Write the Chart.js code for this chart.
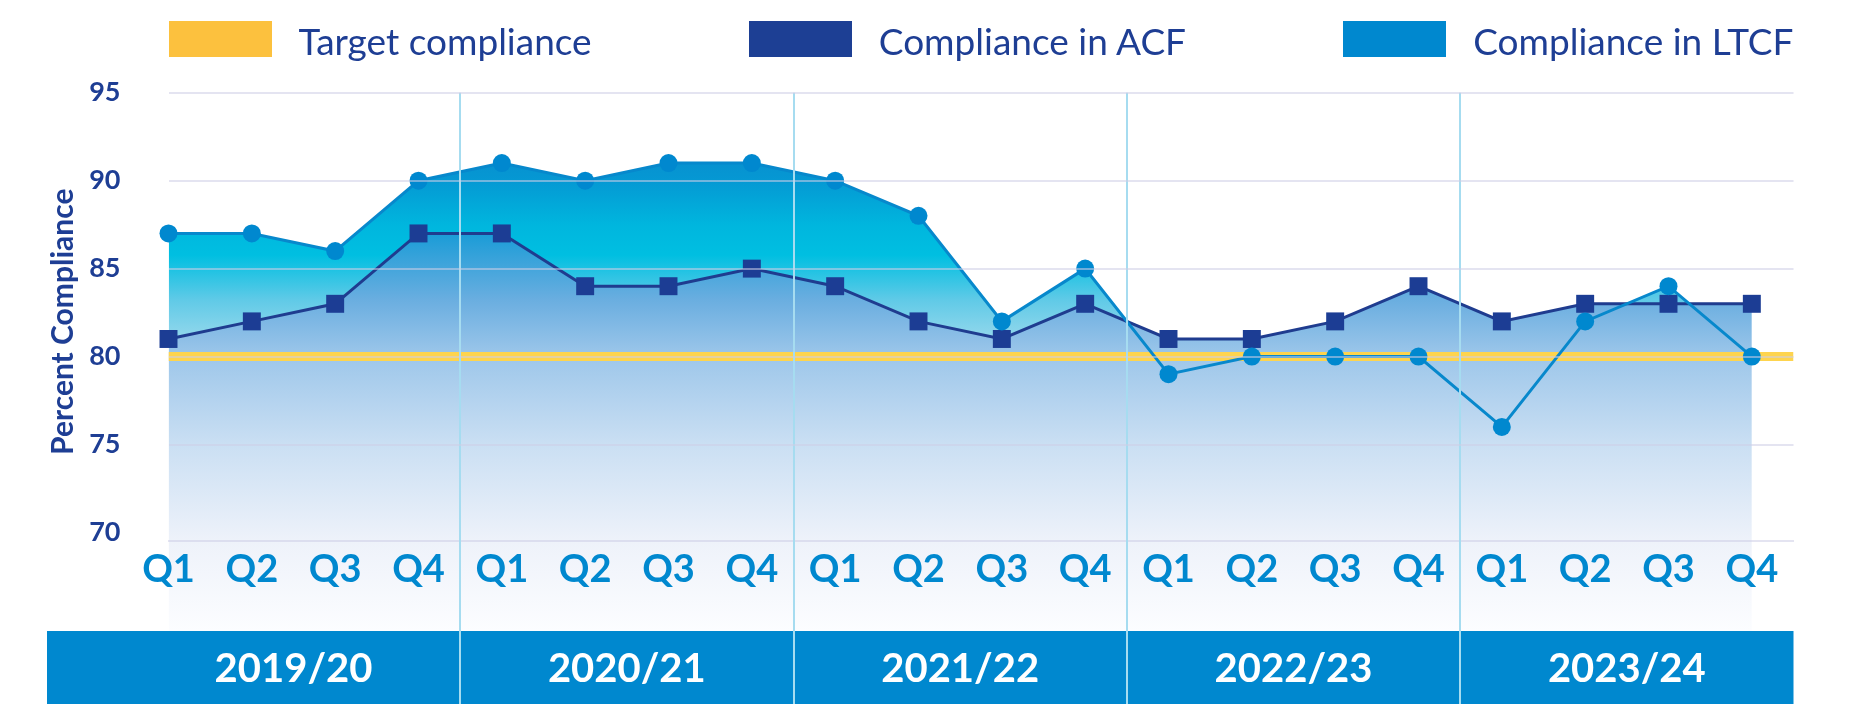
<!DOCTYPE html>
<html>
<head>
<meta charset="utf-8">
<script src="https://cdn.jsdelivr.net/npm/chart.js@4.4.1/dist/chart.umd.min.js"></script>
<style>
  body { margin: 0; background: #fff; }
  #wrap { position: relative; width: 1855px; height: 704px; }
  #legend {
    position: absolute; top: 21px;
    display: flex; justify-content: space-between;
    font-family: Lato, sans-serif; font-size: 37px; color: #1e3e94;
  }
  .item { display: flex; align-items: flex-start; }
  .item .box { width: 103px; height: 36px; margin-right: 27px; }
  .item span { line-height: 36px; position: relative; top: 2px; white-space: nowrap; }
</style>
</head>
<body>
<div id="wrap">
  <canvas id="complianceChart" width="1855" height="704"></canvas>
  <div id="legend"></div>
</div>
<script>
// quarters along the x axis, grouped into financial years
const quarters = ['Q1', 'Q2', 'Q3', 'Q4', 'Q1', 'Q2', 'Q3', 'Q4', 'Q1', 'Q2', 'Q3', 'Q4',
                  'Q1', 'Q2', 'Q3', 'Q4', 'Q1', 'Q2', 'Q3', 'Q4'];
const years = ['2019/20', '2020/21', '2021/22', '2022/23', '2023/24'];

// percent compliance per quarter
const acf = [81, 82, 83, 87, 87, 84, 84, 85, 84, 82, 81, 83, 81, 81, 82, 84, 82, 83, 83, 83];
const ltcf = [87, 87, 86, 90, 91, 90, 91, 91, 90, 88, 82, 85, 79, 80, 80, 80, 76, 82, 84, 80];
const target = 80;

const yTicks = [70, 75, 80, 85, 90, 95];
const yMin = 64.4;
const yMax = 95;
const axisBase = 69.5;

const NAVY = '#1e3e94';
const BLUE = '#0088cf';
const GRID = 'rgba(205,205,230,0.55)';
const DIVIDER = '#a6dcf0';
const legendColors = ['#fcc13e', '#1d3f94', '#0088cf'];

const xMax = quarters.length - 0.5;
const perYear = quarters.length / years.length;

Chart.defaults.font.family = 'Lato';

function gradient(chart, stops) {
    const area = chart.chartArea;
    if (!area) return 'transparent';
    const g = chart.ctx.createLinearGradient(0, area.top, 0, area.bottom);
    stops.forEach(s => g.addColorStop(s[0], s[1]));
    return g;
}

// blue band behind the financial year labels
const yearBand = {
    id: 'yearBand',
    beforeDraw(chart) {
        const {ctx, chartArea, scales} = chart;
        const band = scales.xYear;
        const left = scales.y.left + 2;
        ctx.save();
        ctx.fillStyle = BLUE;
        ctx.fillRect(left, band.top, chartArea.right - left, band.bottom - band.top);
        ctx.restore();
    }
};

let ctx = document.getElementById('complianceChart').getContext('2d');
let chart = new Chart(ctx, {
    type: 'line',
    data: {
        datasets: [{
            label: 'Target compliance',
            data: [{x: 0, y: target}, {x: xMax, y: target}],
            borderColor: '#fed44e',
            borderWidth: 9,
            pointRadius: 0,
            fill: false,
            order: 2
        }, {
            label: 'Compliance in ACF',
            data: acf.map((v, i) => ({x: i, y: v})),
            borderColor: '#1f3c8f',
            borderWidth: 3,
            pointStyle: 'rect',
            pointRadius: 12.7,
            pointBackgroundColor: '#1c3d94',
            pointBorderWidth: 0,
            backgroundColor: (c) => gradient(c.chart, [
                [0, '#0090d2'], [0.222, '#0096d4'], [0.385, '#6aaee0'], [0.491, '#9ec7ea'],
                [0.653, '#cadff3'], [0.833, '#eef2fa'], [1, '#fcfdff']
            ]),
            fill: 'start',
            clip: false,
            order: 1
        }, {
            label: 'Compliance in LTCF',
            data: ltcf.map((v, i) => ({x: i, y: v})),
            borderColor: '#0788cc',
            borderWidth: 3,
            pointRadius: 9,
            pointBackgroundColor: BLUE,
            pointBorderWidth: 0,
            backgroundColor: (c) => gradient(c.chart, [
                [0, '#0a86ca'], [0.084, '#0a88cb'], [0.162, '#0598d3'], [0.246, '#00b6de'],
                [0.302, '#00bfe1'], [0.385, '#60cae7'], [0.46, '#95d8ec'], [1, '#c8ecf6']
            ]),
            fill: {target: '-1', below: 'rgba(0,0,0,0)'},
            clip: false,
            order: 0
        }]
    },
    options: {
        responsive: false,
        animation: false,
        layout: {padding: {top: 92.7, left: 45, right: 61.5, bottom: 0}},
        plugins: {
            legend: {display: false},
            tooltip: {enabled: false},
            filler: {drawTime: 'beforeDatasetsDraw'}
        },
        scales: {
            x: {
                type: 'linear',
                axis: 'x',
                min: 0,
                max: xMax,
                position: {y: axisBase},
                afterBuildTicks: (s) => { s.ticks = quarters.map((q, i) => ({value: i})); },
                ticks: {
                    callback: (v, i) => quarters[i],
                    autoSkip: false,
                    maxRotation: 0,
                    padding: 5.5,
                    color: BLUE,
                    font: {size: 38, weight: 'bold'},
                    z: 1
                },
                grid: {display: false, drawTicks: false},
                border: {display: true, color: GRID, width: 2, z: 1}
            },
            xYear: {
                type: 'linear',
                axis: 'x',
                min: 0,
                max: xMax,
                position: 'bottom',
                afterBuildTicks: (s) => {
                    s.ticks = years.map((y, i) => ({value: i * perYear + (perYear - 1) / 2}));
                },
                afterFit: (s) => { s.height = 73; },
                ticks: {
                    callback: (v, i) => years[i],
                    autoSkip: false,
                    maxRotation: 0,
                    padding: -59,
                    color: '#ffffff',
                    font: {size: 40, weight: 'bold'}
                },
                grid: {
                    offset: true,
                    color: (c) => (c.tick ? DIVIDER : 'rgba(0,0,0,0)'),
                    lineWidth: 2,
                    drawTicks: true,
                    tickLength: 73,
                    z: 1
                },
                border: {display: false}
            },
            y: {
                min: yMin,
                max: yMax,
                afterBuildTicks: (s) => { s.ticks = yTicks.map(v => ({value: v})); },
                afterFit: (s) => { s.width = 123.5; },
                ticks: {
                    padding: 48,
                    color: NAVY,
                    font: {size: 27, weight: 'bold'}
                },
                grid: {
                    color: (c) => (c.tick && c.tick.value === 70 ? 'rgba(0,0,0,0)' : GRID),
                    lineWidth: 2,
                    drawTicks: false,
                    z: 1
                },
                border: {display: false},
                title: {
                    display: true,
                    text: ' '.repeat(11) + 'Percent Compliance',
                    color: NAVY,
                    font: {size: 30, weight: 'bold'},
                    padding: {top: 0, bottom: 0}
                }
            }
        }
    },
    plugins: [yearBand]
});

// legend spread across the plot width
let legend = document.getElementById('legend');
legend.style.left = chart.chartArea.left + 'px';
legend.style.width = (chart.chartArea.right - chart.chartArea.left) + 'px';
chart.data.datasets.forEach(function (ds, i) {
    let item = document.createElement('div');
    item.className = 'item';
    let box = document.createElement('div');
    box.className = 'box';
    box.style.background = legendColors[i];
    let text = document.createElement('span');
    text.textContent = ds.label;
    item.appendChild(box);
    item.appendChild(text);
    legend.appendChild(item);
});
</script>
</body>
</html>
